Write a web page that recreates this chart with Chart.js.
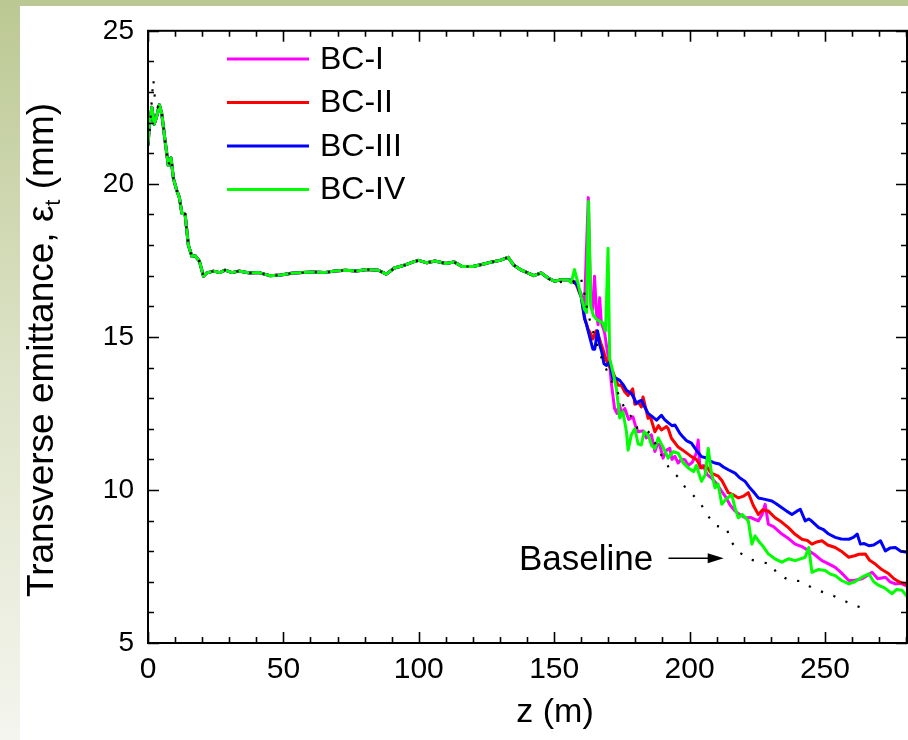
<!DOCTYPE html>
<html>
<head>
<meta charset="utf-8">
<script src="https://cdn.jsdelivr.net/npm/chart.js@4.4.0/dist/chart.umd.min.js"></script>
<style>
  html, body { margin: 0; padding: 0; background: #fff; overflow: hidden; }
</style>
</head>
<body>
<canvas id="chart" width="908" height="740"></canvas>
<script>
// Values: z in m, transverse emittance in mm
const xTicks = [0, 50, 100, 150, 200, 250];
const yTicks = [5, 10, 15, 20, 25];

// shared part, all four runs sit on top of each other up to ~155 m
const commonZ = [0, 0.5, 1.4, 2.3, 3.2, 4.2, 5.1, 6.3, 7.5, 8.5, 9.4, 10.6, 11.6, 12.5, 13.7, 14.9, 16.2, 17.4, 19.0, 20.5,
  21.7, 24.2, 26.5, 28.5, 31, 33.5, 37.5, 41, 45, 49, 53, 57, 61, 65, 69, 73, 77, 81, 85, 88,
  91, 95, 98, 100, 103, 106, 110, 113, 116, 120, 124, 127, 130, 133, 135, 137.5, 140, 142.5, 145.2, 147.6,
  150.1, 152.6, 155];
const commonEps = [21.25, 21.9, 22.5, 21.95, 22.2, 22.58, 22.28, 21.41, 20.6, 20.85, 20.17, 19.79, 19.55, 19.04, 19.01, 18.0, 17.63, 17.65, 17.47, 16.98,
  17.09, 17.15, 17.1, 17.18, 17.1, 17.15, 17.09, 17.1, 17.0, 17.02, 17.08, 17.1, 17.12, 17.1, 17.15, 17.18, 17.15, 17.2, 17.18, 17.05,
  17.25, 17.35, 17.45, 17.5, 17.42, 17.48, 17.4, 17.45, 17.3, 17.3, 17.38, 17.45, 17.5, 17.6, 17.35, 17.2, 17.1, 17.0, 17.09, 16.93,
  16.82, 16.87, 16.87];

// BC-I (magenta) after the split
const bc1Z = [156.3, 158, 160, 161.2, 162.6, 163.5, 164.2, 164.9, 165.6, 166.2, 166.8, 167.4, 168.6, 169.5, 170.5, 171.1, 172.3, 173.2, 174, 175,
  176.1, 177.5, 179.1, 180, 181, 182.8, 184, 185.9, 187.2, 188.2, 189, 190.2, 191.5, 192.7, 193.5, 194.6, 195.8, 197, 198.3, 199.5,
  201, 202.5, 203.2, 203.8, 205, 206.5, 208.1, 210, 211.5, 213.1, 215, 216.8, 218.5, 220.5, 222.5, 225.4, 226.8, 227.9, 229.1, 231,
  234.1, 236, 239, 241.5, 244, 246, 248.9, 251, 253.8, 256, 258.8, 261, 263.7, 265.5, 267.4, 269.5, 272.3, 274, 276, 278, 280.5];
const bc1Eps = [16.8, 16.8, 16.4, 16.0, 19.55, 16.2, 15.9, 16.98, 15.8, 15.4, 16.28, 15.47, 15.15, 14.6, 14.1, 13.5, 12.66, 12.5, 12.8, 12.5,
  12.66, 12.3, 12.39, 12.1, 11.9, 11.93, 11.7, 11.8, 11.26, 11.5, 11.47, 11.04, 11.3, 11.36, 11.0, 11.1, 10.88, 11.0, 10.99, 10.8,
  10.9, 11.2, 11.63, 10.72, 10.8, 10.5, 10.39, 10.2, 10.0, 9.8, 9.5, 9.31, 9.2, 9.09, 9.1, 8.99, 9.2, 9.53, 8.88, 8.8,
  8.56, 8.45, 8.23, 8.15, 8.01, 7.9, 7.69, 7.6, 7.47, 7.3, 7.04, 7.05, 7.1, 7.2, 7.31, 7.1, 7.15, 7.0, 6.93, 6.95, 6.85];

// BC-II (red)
const bc2Z = [156.3, 158, 160, 161.3, 162.5, 163.5, 164.3, 165.5, 166.2, 167.2, 168, 169, 169.9, 171.7, 173.6, 174.8, 176.1, 177.3, 179, 179.8,
  181, 182.2, 182.8, 184.7, 185.5, 187.2, 188.5, 189.6, 191.5, 192.1, 193.3, 195.8, 197.5, 200.7, 202.5, 204.4, 206, 208, 210.6, 212,
  214.3, 216, 218, 220, 221.7, 223.5, 225.4, 227, 229.1, 231.6, 234, 236.5, 239, 241.5, 243.5, 245.2, 247, 248.9, 251, 253.8,
  256, 258.8, 261, 262.5, 264.9, 266.5, 268.6, 271, 273.6, 275.5, 277.3, 279, 280.5];
const bc2Eps = [16.8, 16.75, 16.3, 15.6, 15.26, 15.1, 14.93, 15.2, 15.1, 14.8, 14.6, 14.3, 14.1, 13.85, 13.42, 13.42, 13.2, 13.09, 13.3, 12.8,
  12.88, 12.71, 13.04, 12.34, 12.4, 11.9, 12.1, 11.96, 12.07, 12.01, 11.69, 11.4, 11.3, 11.09, 11.0, 10.72, 10.8, 10.55, 10.45, 10.3,
  9.91, 9.85, 9.74, 9.8, 9.91, 9.5, 9.2, 9.35, 9.31, 9.09, 8.95, 8.77, 8.55, 8.39, 8.35, 8.23, 8.3, 8.34, 8.2, 8.12,
  8.0, 7.8, 7.85, 7.9, 7.91, 7.7, 7.58, 7.4, 7.26, 7.1, 7.0, 6.95, 6.91];

// BC-III (blue)
const bc3Z = [156.5, 158.5, 160, 161.2, 161.9, 163.1, 164.3, 165, 166, 166.8, 167.6, 168.4, 169.3, 170.5, 171.7, 172.9, 174.2, 175.4, 176.7, 178.5,
  179.5, 180.4, 181.5, 182.2, 183.5, 184.7, 185.9, 187.8, 189.6, 190.8, 192.1, 193.5, 194.6, 196.4, 197.5, 199, 200.7, 202.5, 204.4, 206,
  207.5, 209.4, 211, 212.5, 214.3, 216.8, 218.5, 220.5, 222, 223.5, 225.4, 227.5, 230.4, 232, 234.1, 236, 237.8, 239.5, 240.9, 242.7,
  244, 245, 247.7, 249.5, 251.4, 253.8, 256, 258.8, 260.5, 261.9, 263.1, 264.5, 266.2, 268, 270.5, 272.3, 274, 276, 278, 280.5];
const bc3Eps = [16.85, 16.7, 16.3, 15.6, 15.42, 15.0, 14.6, 14.6, 15.2, 14.75, 14.5, 14.12, 14.07, 14.17, 13.63, 13.65, 13.58, 13.45, 13.26, 13.15,
  13.0, 12.82, 12.9, 12.93, 12.7, 12.5, 12.42, 12.28, 12.44, 12.3, 12.2, 12.1, 12.12, 11.85, 11.74, 11.6, 11.53, 11.3, 11.09, 11.05,
  10.95, 10.88, 10.85, 10.75, 10.66, 10.55, 10.4, 10.28, 10.1, 9.95, 9.74, 9.7, 9.64, 9.55, 9.42, 9.3, 9.2, 9.3, 9.37, 8.99,
  9.05, 8.99, 8.77, 8.7, 8.56, 8.45, 8.4, 8.39, 8.45, 8.56, 8.23, 8.25, 8.18, 8.2, 8.34, 8.01, 8.1, 8.12, 8.0, 7.96];

// BC-IV (green)
const bc4Z = [156.3, 157.5, 158.8, 160, 161.2, 162, 162.7, 163.5, 164.5, 165.6, 167, 168, 169, 169.9, 170.5, 171.7, 173, 174.2, 175.4, 176.7,
  177.3, 178.5, 179.8, 181, 182.2, 183.2, 184.7, 186, 187.2, 188.4, 190.2, 192.1, 193.9, 195.8, 197.5, 199.5, 201.5, 202.5, 204.4, 205.8,
  206.9, 208, 209.4, 210.5, 211.9, 213.5, 215.6, 216.8, 218, 219.5, 221.7, 223, 224.2, 225.4, 227.2, 229.1, 231.5, 234.1, 236.5, 239,
  241, 242.7, 244, 245.2, 247.5, 250.1, 252, 253.8, 256, 258.8, 261, 263.7, 266.2, 268, 269.9, 272, 274.8, 276.5, 278.5, 280.5];
const bc4Eps = [16.77, 17.2, 16.75, 16.3, 15.9, 15.8, 19.42, 16.0, 15.7, 15.58, 15.5, 15.45, 15.2, 17.9, 14.3, 13.85, 13.3, 12.35, 12.55, 11.9,
  11.3, 11.8, 12.0, 11.5, 11.47, 11.9, 11.8, 11.45, 11.36, 11.7, 11.4, 11.04, 11.25, 11.2, 10.9, 10.72, 10.6, 10.8, 10.28, 10.5,
  11.36, 10.6, 10.07, 10.2, 9.53, 9.7, 9.85, 9.4, 9.09, 9.2, 8.99, 8.23, 8.5, 8.34, 8.15, 7.91, 7.75, 7.64, 7.75, 7.69,
  7.75, 7.8, 8.12, 7.31, 7.4, 7.37, 7.25, 7.2, 7.05, 6.93, 7.0, 7.15, 7.26, 7.0, 6.88, 6.8, 6.61, 6.75, 6.72, 6.5];

// Baseline (dotted): own start and tail, middle follows the shared curve
const baseHeadZ = [0, 0.8, 1.5, 2.0, 2.7, 3.5];
const baseHeadEps = [21.3, 21.9, 22.9, 23.4, 22.6, 22.5];
const baseTailZ = [150, 152.6, 156.5, 159.7, 160.9, 162.5, 163.7, 166.4, 170.1, 172, 174, 175.8, 178.3, 180.7, 182.8, 185.7, 188.4, 192.7, 195.8, 198.5,
  201.4, 204.1, 206.7, 209.4, 213.7, 214.9, 218.3, 222.7, 227.3, 230.1, 232.2, 236.5, 241.1, 245.8, 252.6, 260.9, 265.3];
const baseTailEps = [16.75, 16.8, 16.77, 16.98, 16.55, 15.76, 15.38, 14.55, 13.76, 13.4, 13.1, 12.7, 12.41, 12.03, 12.04, 11.83, 11.31, 10.68, 10.42, 10.07,
  9.82, 9.55, 9.17, 8.83, 8.77, 8.37, 7.96, 7.72, 7.63, 7.58, 7.28, 7.06, 7.02, 6.77, 6.56, 6.23, 6.10];

const seriesNames = ['BC-I', 'BC-II', 'BC-III', 'BC-IV'];
const seriesColors = ['#ff00ff', '#ff0000', '#0000ff', '#00ff00'];

function pts(zs, es) { return zs.map((z, i) => ({ x: z, y: es[i] })); }
function withCommon(zs, es) { return pts(commonZ.concat(zs), commonEps.concat(es)); }

const midBase = pts(commonZ, commonEps).filter(p => p.x > 4 && p.x < 148);
const baselineData = pts(baseHeadZ, baseHeadEps).concat(midBase, pts(baseTailZ, baseTailEps));

const FONT = '"Liberation Sans", Arial, sans-serif';

// slide background: green band on top, fading strip on the left
const slideBg = {
    id: 'slideBg',
    beforeDraw(chart) {
        const { ctx, width, height } = chart;
        ctx.save();
        ctx.fillStyle = '#fff';
        ctx.fillRect(0, 0, width, height);
        const g = ctx.createLinearGradient(0, 0, 0, height);
        g.addColorStop(0, '#bcc893');
        g.addColorStop(0.5, '#dde3c8');
        g.addColorStop(1, '#f4f5ee');
        ctx.fillStyle = g;
        ctx.fillRect(0, 0, 20, height);
        ctx.fillStyle = '#bcc893';
        ctx.fillRect(0, 0, width, 6);
        ctx.restore();
    }
};

// box frame with inward ticks on all four sides
const frameTicks = {
    id: 'frameTicks',
    afterDatasetsDraw(chart) {
        const { ctx, chartArea: a, scales: { x, y } } = chart;
        ctx.save();
        ctx.strokeStyle = '#000';
        ctx.lineWidth = 1.6;
        ctx.beginPath();
        for (let v = 0; v <= 280; v += 10) {
            const px = Math.round(x.getPixelForValue(v)) + 0.5;
            const len = v % 50 === 0 ? 11 : 6;
            ctx.moveTo(px, a.bottom); ctx.lineTo(px, a.bottom - len);
            ctx.moveTo(px, a.top); ctx.lineTo(px, a.top + len);
        }
        for (let v = 5; v <= 25; v++) {
            const py = Math.round(y.getPixelForValue(v)) + 0.5;
            const len = v % 5 === 0 ? 11 : 6;
            ctx.moveTo(a.left, py); ctx.lineTo(a.left + len, py);
            ctx.moveTo(a.right, py); ctx.lineTo(a.right - len, py);
        }
        ctx.stroke();
        ctx.lineWidth = 2;
        ctx.strokeRect(a.left, a.top, a.right - a.left, a.bottom - a.top);
        ctx.restore();
    }
};

// legend, axis titles and the "Baseline" note
const labels = {
    id: 'labels',
    afterDraw(chart) {
        const { ctx, scales: { x, y } } = chart;
        ctx.save();
        ctx.fillStyle = '#000';
        ctx.textBaseline = 'middle';

        // legend
        ctx.font = '32px ' + FONT;
        seriesNames.forEach((name, i) => {
            const ly = 59 + i * 43.5;
            ctx.strokeStyle = seriesColors[i];
            ctx.lineWidth = 3;
            ctx.beginPath();
            ctx.moveTo(227, ly); ctx.lineTo(309, ly);
            ctx.stroke();
            ctx.textAlign = 'left';
            ctx.fillText(name, 320, ly + 1);
        });

        // Baseline label with arrow, placed in data units
        const bx = x.getPixelForValue(137.0), by = y.getPixelForValue(7.7);
        ctx.font = '35px ' + FONT;
        ctx.textAlign = 'left';
        ctx.fillText('Baseline', bx, by);
        const ax0 = x.getPixelForValue(192.2), ax1 = x.getPixelForValue(212.6);
        ctx.strokeStyle = '#000';
        ctx.lineWidth = 1.5;
        ctx.beginPath();
        ctx.moveTo(ax0, by - 2); ctx.lineTo(ax1 - 12, by - 2);
        ctx.stroke();
        ctx.beginPath();
        ctx.moveTo(ax1, by - 2); ctx.lineTo(ax1 - 16, by - 7); ctx.lineTo(ax1 - 16, by + 3);
        ctx.closePath();
        ctx.fill();

        // x title
        ctx.font = '34px ' + FONT;
        ctx.textAlign = 'center';
        ctx.fillText('z (m)', 555, 713);

        // y title with subscript t
        ctx.translate(43, 350);
        ctx.rotate(-Math.PI / 2);
        const big = '37px ' + FONT, small = '22px ' + FONT;
        const p1 = 'Transverse emittance, \u03b5', p2 = 't', p3 = ' (mm)';
        ctx.font = big;
        const w1 = ctx.measureText(p1).width, w3 = ctx.measureText(p3).width;
        ctx.font = small;
        const w2 = ctx.measureText(p2).width;
        let sx = -(w1 + w2 + w3) / 2;
        ctx.textAlign = 'left';
        ctx.font = big;
        ctx.fillText(p1, sx, 0);
        ctx.font = small;
        ctx.fillText(p2, sx + w1, 11);
        ctx.font = big;
        ctx.fillText(p3, sx + w1 + w2, 0);
        ctx.restore();
    }
};

const lineStyle = { borderWidth: 3, pointRadius: 0, tension: 0, fill: false, borderJoinStyle: 'round' };

new Chart(document.getElementById('chart'), {
    type: 'line',
    data: {
        datasets: [
            { label: 'BC-I', data: withCommon(bc1Z, bc1Eps), borderColor: seriesColors[0], order: 4, ...lineStyle },
            { label: 'BC-II', data: withCommon(bc2Z, bc2Eps), borderColor: seriesColors[1], order: 3, ...lineStyle },
            { label: 'BC-III', data: withCommon(bc3Z, bc3Eps), borderColor: seriesColors[2], order: 2, ...lineStyle },
            { label: 'BC-IV', data: withCommon(bc4Z, bc4Eps), borderColor: seriesColors[3], order: 1, ...lineStyle },
            { label: 'Baseline', data: baselineData, borderColor: '#000', borderWidth: 2.2, borderDash: [2.2, 11],
              borderCapStyle: 'butt', pointRadius: 0, tension: 0, fill: false, order: 0 }
        ]
    },
    options: {
        responsive: false,
        animation: false,
        devicePixelRatio: 1,
        layout: { padding: { left: 0, top: 26, right: 1, bottom: 0 } },
        plugins: { legend: { display: false }, tooltip: { enabled: false } },
        scales: {
            x: {
                type: 'linear', min: 0, max: 280.3,
                grid: { display: false, drawTicks: false },
                border: { display: false },
                afterBuildTicks: s => { s.ticks = xTicks.map(v => ({ value: v })); },
                afterFit: s => { s.height = 97; },
                ticks: { font: { family: FONT, size: 30 }, color: '#000', padding: 9, maxRotation: 0, autoSkip: false }
            },
            y: {
                type: 'linear', min: 5, max: 25,
                grid: { display: false, drawTicks: false },
                border: { display: false },
                afterBuildTicks: s => { s.ticks = yTicks.map(v => ({ value: v })); },
                afterFit: s => { s.width = 148; },
                ticks: { font: { family: FONT, size: 28 }, color: '#000', padding: 14 }
            }
        }
    },
    plugins: [slideBg, frameTicks, labels]
});
</script>
</body>
</html>
